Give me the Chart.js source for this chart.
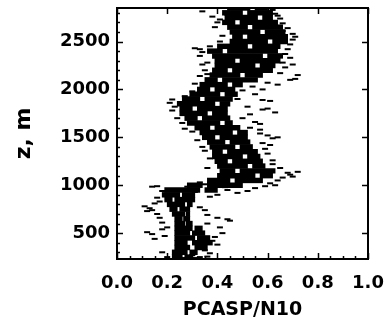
<!DOCTYPE html>
<html>
<head>
<meta charset="utf-8">
<script src="https://cdn.jsdelivr.net/npm/chart.js@4.4.1/dist/chart.umd.min.js"></script>
<style>
  body { margin: 0; background: #fff; }
  #wrap { width: 386px; height: 329px; }
</style>
</head>
<body>
<div id="wrap"><canvas id="profile" width="386" height="329"></canvas></div>
<script>
// altitude levels (m); at each level the samples span [lo, hi] with one empty stretch [gapLo, gapHi]
const levels = [250, 300, 350, 400, 450, 500, 550, 600, 650, 700, 750, 800, 850, 900, 950, 1000,
  1050, 1100, 1150, 1200, 1250, 1300, 1350, 1400, 1450, 1500, 1550, 1600, 1650, 1700, 1750, 1800,
  1850, 1900, 1950, 2000, 2050, 2100, 2150, 2200, 2250, 2300, 2350, 2400, 2450, 2500, 2550, 2600,
  2650, 2700, 2750, 2800, 2850];
const lo = [0.22, 0.22, 0.23, 0.23, 0.23, 0.23, 0.23, 0.23, 0.23, 0.22, 0.21, 0.20, 0.19, 0.18, 0.19, 0.28,
  0.36, 0.40, 0.41, 0.40, 0.39, 0.38, 0.38, 0.37, 0.36, 0.34, 0.33, 0.31, 0.28, 0.27, 0.25, 0.25,
  0.24, 0.26, 0.29, 0.32, 0.33, 0.35, 0.37, 0.38, 0.39, 0.39, 0.38, 0.36, 0.40, 0.45, 0.46, 0.45,
  0.44, 0.42, 0.43, 0.42, 0.44];
const hi = [0.30, 0.32, 0.36, 0.38, 0.37, 0.35, 0.34, 0.30, 0.29, 0.29, 0.29, 0.30, 0.31, 0.31, 0.40, 0.50,
  0.58, 0.62, 0.63, 0.59, 0.58, 0.57, 0.56, 0.54, 0.53, 0.52, 0.52, 0.49, 0.46, 0.45, 0.44, 0.44,
  0.45, 0.46, 0.48, 0.47, 0.50, 0.56, 0.58, 0.62, 0.63, 0.65, 0.66, 0.64, 0.65, 0.68, 0.68, 0.67,
  0.66, 0.64, 0.62, 0.62, 0.60];
const gapLo = [0.26, 0.28, 0.29, 0.28, 0.31, 0.29, 0.30, 0.27, 0.26, 0.27, 0.24, 0.27, 0.22, 0.25, 0.33, 0.34,
  0.45, 0.55, 0.47, 0.52, 0.44, 0.50, 0.42, 0.47, 0.43, 0.39, 0.46, 0.37, 0.41, 0.32, 0.36, 0.30,
  0.39, 0.33, 0.41, 0.37, 0.44, 0.40, 0.49, 0.44, 0.55, 0.47, 0.58, 0.42, 0.52, 0.60, 0.50, 0.57,
  0.52, 0.47, 0.56, 0.50, 0.53];
const gapHi = [0.27, 0.29, 0.31, 0.30, 0.32, 0.30, 0.31, 0.275, 0.265, 0.275, 0.25, 0.28, 0.23, 0.26, 0.35, 0.36,
  0.47, 0.57, 0.49, 0.54, 0.46, 0.52, 0.44, 0.49, 0.45, 0.41, 0.48, 0.39, 0.43, 0.34, 0.38, 0.32,
  0.41, 0.35, 0.43, 0.39, 0.46, 0.42, 0.51, 0.46, 0.57, 0.49, 0.60, 0.44, 0.54, 0.62, 0.52, 0.59,
  0.54, 0.49, 0.58, 0.52, 0.55];

// isolated samples around the dense rows
const dotX = [0.34, 0.38, 0.40, 0.39, 0.63, 0.65, 0.66, 0.68, 0.70, 0.70, 0.69, 0.42, 0.41, 0.33, 0.34, 0.31,
  0.68, 0.67, 0.69, 0.66, 0.67, 0.36, 0.35, 0.65, 0.71, 0.69, 0.60, 0.33, 0.31, 0.54, 0.50, 0.30,
  0.55, 0.58, 0.61, 0.22, 0.21, 0.22, 0.52, 0.58, 0.60, 0.53, 0.50, 0.55, 0.57, 0.24, 0.26, 0.53,
  0.57, 0.60, 0.64, 0.62, 0.30, 0.32, 0.58, 0.59, 0.60, 0.35, 0.62, 0.37, 0.65, 0.68, 0.69, 0.70,
  0.66, 0.64, 0.61, 0.59, 0.55, 0.52, 0.48, 0.35, 0.33, 0.14, 0.16, 0.18, 0.26, 0.28, 0.44, 0.40,
  0.37, 0.15, 0.13, 0.12, 0.16, 0.17, 0.14, 0.33, 0.35, 0.36, 0.40, 0.44, 0.36, 0.18, 0.12, 0.14,
  0.19, 0.18, 0.38, 0.39, 0.40, 0.35, 0.30, 0.26, 0.33, 0.37, 0.18, 0.20,
  0.62, 0.64, 0.66, 0.71, 0.44, 0.41, 0.37, 0.33, 0.34, 0.36, 0.70, 0.72, 0.64, 0.58, 0.27, 0.23,
  0.48, 0.63, 0.27, 0.57, 0.61, 0.34, 0.62, 0.36, 0.72, 0.63, 0.43, 0.31, 0.16, 0.17, 0.11, 0.20,
  0.15, 0.42, 0.41, 0.45, 0.28, 0.31, 0.24, 0.36];
const dotZ = [2815, 2760, 2700, 2650, 2790, 2740, 2690, 2640, 2580, 2520, 2470, 2560, 2500, 2420, 2390, 2430,
  2420, 2370, 2330, 2280, 2230, 2280, 2200, 2170, 2110, 2100, 2070, 2140, 2060, 2030, 1990, 1980,
  1950, 1890, 1880, 1895, 1860, 1780, 1820, 1790, 1800, 1740, 1700, 1660, 1640, 1700, 1650, 1600,
  1540, 1520, 1500, 1490, 1560, 1470, 1440, 1380, 1330, 1360, 1260, 1280, 1180, 1130, 1110, 1090,
  1080, 1050, 1020, 990, 970, 940, 920, 1010, 1030, 985, 990, 940, 960, 985, 950, 900,
  880, 810, 760, 730, 700, 660, 740, 770, 740, 690, 660, 645, 600, 610, 510, 490,
  470, 540, 420, 460, 380, 320, 270, 240, 250, 290, 300, 250,
  2830, 2770, 2610, 2550, 2780, 2730, 2450, 2350, 2260, 2160, 2260, 2150, 2050, 2000, 1930, 1820,
  1900, 1760, 1590, 1580, 1420, 1400, 1220, 1180, 1140, 1000, 980, 930, 870, 830, 780, 560,
  440, 500, 560, 630, 235, 240, 238, 255];

const xRange = [0, 1];
const zRange = [230, 2850];
const zTicks = [500, 1000, 1500, 2000, 2500];
const xMinorStep = 0.05;
const zMinorStep = 100;

const tickFont = { family: 'DejaVu Sans', size: 18, weight: 'bold' };
const xTitleFont = { family: 'DejaVu Sans', size: 19, weight: 'bold' };
const yTitleFont = { family: 'DejaVu Sans', size: 22, weight: 'bold' };

// box frame with inward ticks on every side
const boxTicks = {
  id: 'boxTicks',
  afterDatasetsDraw(chart) {
    const { ctx, chartArea: a, scales: { x, y } } = chart;
    ctx.save();
    ctx.strokeStyle = '#000';
    ctx.lineWidth = 1.5;
    ctx.beginPath();
    for (let v = xRange[0]; v <= xRange[1] + 1e-9; v += xMinorStep) {
      const px = Math.round(x.getPixelForValue(v)) + 0.5;
      const major = Math.abs(v * 5 - Math.round(v * 5)) < 1e-6;
      const len = major ? 6 : 3;
      ctx.moveTo(px, a.bottom);
      ctx.lineTo(px, a.bottom - len);
      if (major) {
        ctx.moveTo(px, a.top);
        ctx.lineTo(px, a.top + len);
      }
    }
    for (let v = 300; v <= zRange[1]; v += zMinorStep) {
      const py = Math.round(y.getPixelForValue(v)) + 0.5;
      const major = zTicks.includes(v);
      const len = major ? 6 : 3;
      ctx.moveTo(a.left, py);
      ctx.lineTo(a.left + len, py);
      if (major) {
        ctx.moveTo(a.right, py);
        ctx.lineTo(a.right - len, py);
      }
    }
    ctx.stroke();
    ctx.lineWidth = 2;
    ctx.strokeRect(a.left, a.top, a.right - a.left, a.bottom - a.top);
    ctx.restore();
  }
};

const whiteBg = {
  id: 'whiteBg',
  beforeDraw(chart) {
    const { ctx, width, height } = chart;
    ctx.save();
    ctx.fillStyle = '#fff';
    ctx.fillRect(0, 0, width, height);
    ctx.restore();
  }
};

const leftRuns = levels.map((z, i) => ({ x: [lo[i], gapLo[i]], y: z }));
const rightRuns = levels.map((z, i) => ({ x: [gapHi[i], hi[i]], y: z }));
const dots = dotX.map((v, i) => ({ x: v, y: dotZ[i] }));

const runStyle = {
  indexAxis: 'y', grouped: false,
  backgroundColor: '#000', borderWidth: 0,
  barPercentage: 1, categoryPercentage: 1
};

new Chart(document.getElementById('profile'), {
  type: 'bar',
  data: {
    datasets: [
      { ...runStyle, data: leftRuns },
      { ...runStyle, data: rightRuns },
      {
        type: 'scatter', data: dots,
        pointStyle: 'line', pointRadius: 3, borderWidth: 2,
        borderColor: '#000', backgroundColor: '#000'
      }
    ]
  },
  options: {
    responsive: false,
    animation: false,
    layout: { padding: { left: 0, right: 18, top: 8, bottom: 0 } },
    plugins: { legend: { display: false }, tooltip: { enabled: false } },
    scales: {
      x: {
        type: 'linear', position: 'bottom', offset: false,
        min: xRange[0], max: xRange[1],
        grid: { display: false, drawTicks: false, offset: false },
        border: { display: false },
        ticks: {
          stepSize: 0.2, padding: 14, color: '#000', font: tickFont,
          maxRotation: 0, callback: v => v.toFixed(1)
        },
        title: { display: true, text: 'PCASP/N10', color: '#000', font: xTitleFont, padding: { top: 0, bottom: 8 } },
        afterFit: s => { s.height = 70; s.paddingLeft = 0; s.paddingRight = 0; }
      },
      y: {
        type: 'linear', position: 'left', offset: false,
        min: zRange[0], max: zRange[1],
        grid: { display: false, drawTicks: false, offset: false },
        border: { display: false },
        afterBuildTicks: s => { s.ticks = zTicks.map(v => ({ value: v })); },
        ticks: { padding: 7, color: '#000', font: tickFont, callback: v => String(v) },
        title: { display: true, text: 'z, m', color: '#000', font: yTitleFont, padding: { top: 11, bottom: 0 } },
        afterFit: s => { s.width = 117; s.paddingTop = 0; s.paddingBottom = 0; }
      }
    }
  },
  plugins: [whiteBg, boxTicks]
});
</script>
</body>
</html>
